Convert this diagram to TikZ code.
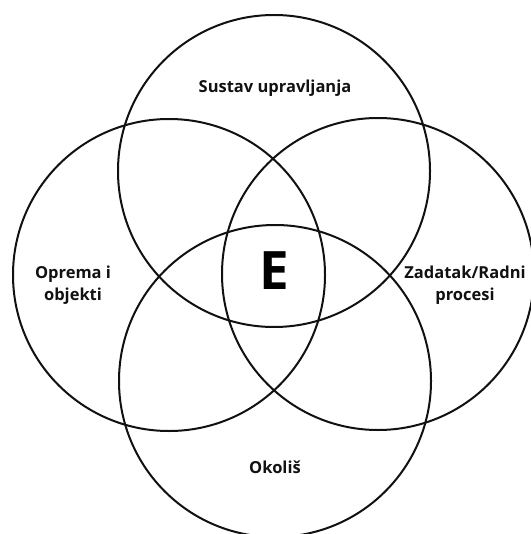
\documentclass[tikz,border=0pt]{standalone}
\usepackage{fontspec}
\setmainfont{Open Sans}
\usetikzlibrary{positioning}
\definecolor{inkBlack}{HTML}{111111}
\tikzset{
    ring/.style={draw=inkBlack,line width=2pt},
    ringlabel/.style={align=center,font=\fontsize{16.5}{22}\selectfont\bfseries,
        text=inkBlack,inner sep=0pt},
    corelabel/.style={font=\fontsize{53}{60}\selectfont\bfseries,text=black,inner sep=0pt}
}
\begin{document}
\begin{tikzpicture}[x=1pt,y=-1pt]
        \useasboundingbox (0,0) rectangle (530,534);
        % four overlapping rings
        \draw[ring] (274,171) circle (156);
        \draw[ring] (169,275) circle (156);
        \draw[ring] (378,274) circle (156);
        \draw[ring] (275,381) circle (156);
        % labels
        \node[ringlabel] (upravljanje) at (275,88) {Sustav upravljanja};
        \node[ringlabel] (oprema) at (73,285) {Oprema i\\objekti};
        \node[ringlabel] (zadatak) at (465,285) {Zadatak/Radni\\procesi};
        \node[ringlabel] (okolis) at (275,467) {Okoliš};
        \node[corelabel] (core) at (274,271) {E};
    \end{tikzpicture}
\end{document}
